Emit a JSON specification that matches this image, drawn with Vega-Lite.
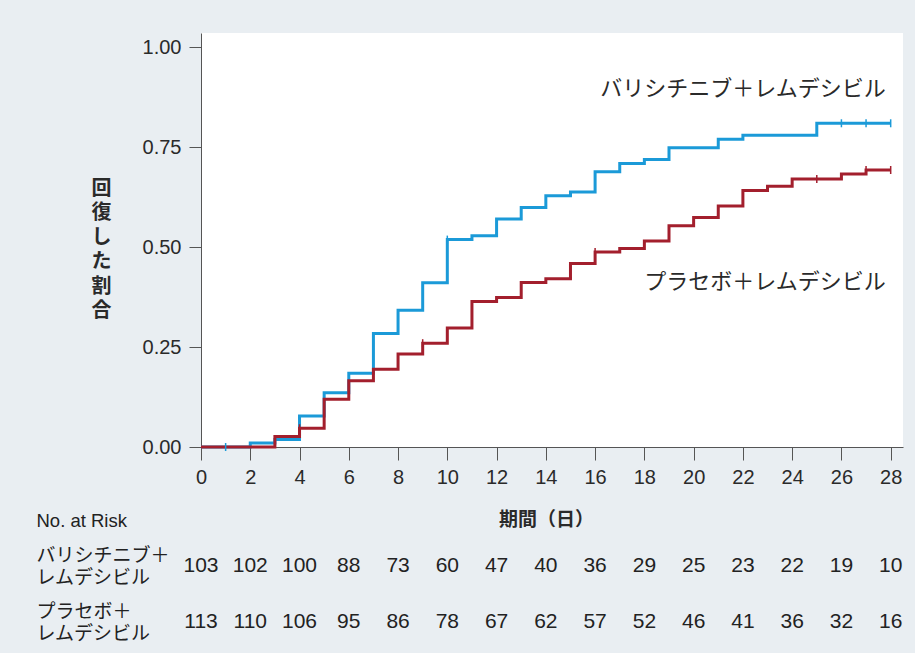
{
  "$schema": "https://vega.github.io/schema/vega-lite/v6.json",
  "background": "#e9eef2",
  "padding": {"left": 36, "top": 33, "right": 12, "bottom": 3},
  "spacing": 23,
  "config": {
    "font": "Liberation Sans, Noto Sans CJK JP",
    "view": {"stroke": null},
    "axis": {"grid": false, "domainColor": "#555555", "tickColor": "#555555", "labelColor": "#2a2a2a", "titleColor": "#2a2a2a", "labelFont": "Liberation Sans, Noto Sans CJK JP", "titleFont": "Liberation Sans, Noto Sans CJK JP"}
  },
  "datasets": {
    "km": [
      {"arm": "バリシチニブ＋レムデシビル", "day": 0, "p": 0},
      {"arm": "バリシチニブ＋レムデシビル", "day": 2, "p": 0.0097},
      {"arm": "バリシチニブ＋レムデシビル", "day": 3, "p": 0.019},
      {"arm": "バリシチニブ＋レムデシビル", "day": 4, "p": 0.0777},
      {"arm": "バリシチニブ＋レムデシビル", "day": 5, "p": 0.1359},
      {"arm": "バリシチニブ＋レムデシビル", "day": 6, "p": 0.1845},
      {"arm": "バリシチニブ＋レムデシビル", "day": 7, "p": 0.2836},
      {"arm": "バリシチニブ＋レムデシビル", "day": 8, "p": 0.3418},
      {"arm": "バリシチニブ＋レムデシビル", "day": 9, "p": 0.4107},
      {"arm": "バリシチニブ＋レムデシビル", "day": 10, "p": 0.5185},
      {"arm": "バリシチニブ＋レムデシビル", "day": 11, "p": 0.5283},
      {"arm": "バリシチニブ＋レムデシビル", "day": 12, "p": 0.5697},
      {"arm": "バリシチニブ＋レムデシビル", "day": 13, "p": 0.5987},
      {"arm": "バリシチニブ＋レムデシビル", "day": 14, "p": 0.628},
      {"arm": "バリシチニブ＋レムデシビル", "day": 15, "p": 0.6377},
      {"arm": "バリシチニブ＋レムデシビル", "day": 16, "p": 0.6883},
      {"arm": "バリシチニブ＋レムデシビル", "day": 17, "p": 0.7085},
      {"arm": "バリシチニブ＋レムデシビル", "day": 18, "p": 0.7186},
      {"arm": "バリシチニブ＋レムデシビル", "day": 19, "p": 0.7483},
      {"arm": "バリシチニブ＋レムデシビル", "day": 21, "p": 0.7694},
      {"arm": "バリシチニブ＋レムデシビル", "day": 22, "p": 0.7795},
      {"arm": "バリシチニブ＋レムデシビル", "day": 25, "p": 0.8093},
      {"arm": "バリシチニブ＋レムデシビル", "day": 28, "p": 0.8093},
      {"arm": "プラセボ＋レムデシビル", "day": 0, "p": 0},
      {"arm": "プラセボ＋レムデシビル", "day": 3, "p": 0.0265},
      {"arm": "プラセボ＋レムデシビル", "day": 4, "p": 0.0469},
      {"arm": "プラセボ＋レムデシビル", "day": 5, "p": 0.1195},
      {"arm": "プラセボ＋レムデシビル", "day": 6, "p": 0.1655},
      {"arm": "プラセボ＋レムデシビル", "day": 7, "p": 0.1944},
      {"arm": "プラセボ＋レムデシビル", "day": 8, "p": 0.2325},
      {"arm": "プラセボ＋レムデシビル", "day": 9, "p": 0.2595},
      {"arm": "プラセボ＋レムデシビル", "day": 10, "p": 0.2975},
      {"arm": "プラセボ＋レムデシビル", "day": 11, "p": 0.3635},
      {"arm": "プラセボ＋レムデシビル", "day": 12, "p": 0.3735},
      {"arm": "プラセボ＋レムデシビル", "day": 13, "p": 0.4115},
      {"arm": "プラセボ＋レムデシビル", "day": 14, "p": 0.4205},
      {"arm": "プラセボ＋レムデシビル", "day": 15, "p": 0.4585},
      {"arm": "プラセボ＋レムデシビル", "day": 16, "p": 0.4875},
      {"arm": "プラセボ＋レムデシビル", "day": 17, "p": 0.4965},
      {"arm": "プラセボ＋レムデシビル", "day": 18, "p": 0.515},
      {"arm": "プラセボ＋レムデシビル", "day": 19, "p": 0.553},
      {"arm": "プラセボ＋レムデシビル", "day": 20, "p": 0.5735},
      {"arm": "プラセボ＋レムデシビル", "day": 21, "p": 0.6025},
      {"arm": "プラセボ＋レムデシビル", "day": 22, "p": 0.641},
      {"arm": "プラセボ＋レムデシビル", "day": 23, "p": 0.652},
      {"arm": "プラセボ＋レムデシビル", "day": 24, "p": 0.67},
      {"arm": "プラセボ＋レムデシビル", "day": 26, "p": 0.6825},
      {"arm": "プラセボ＋レムデシビル", "day": 27, "p": 0.6925},
      {"arm": "プラセボ＋レムデシビル", "day": 28, "p": 0.6925}
    ],
    "censor": [
      {"arm": "バリシチニブ＋レムデシビル", "day": 1, "p": 0},
      {"arm": "バリシチニブ＋レムデシビル", "day": 10, "p": 0.5185},
      {"arm": "バリシチニブ＋レムデシビル", "day": 26, "p": 0.8093},
      {"arm": "バリシチニブ＋レムデシビル", "day": 27, "p": 0.8093},
      {"arm": "バリシチニブ＋レムデシビル", "day": 28, "p": 0.8093},
      {"arm": "プラセボ＋レムデシビル", "day": 4, "p": 0.0469},
      {"arm": "プラセボ＋レムデシビル", "day": 9, "p": 0.2595},
      {"arm": "プラセボ＋レムデシビル", "day": 16, "p": 0.4875},
      {"arm": "プラセボ＋レムデシビル", "day": 25, "p": 0.67},
      {"arm": "プラセボ＋レムデシビル", "day": 27, "p": 0.6925},
      {"arm": "プラセボ＋レムデシビル", "day": 28, "p": 0.6925}
    ],
    "labels": [
      {"label": "バリシチニブ＋レムデシビル", "day": 27.8, "p": 0.895},
      {"label": "プラセボ＋レムデシビル", "day": 27.8, "p": 0.4125}
    ],
    "risk": [
      {"arm": "バリシチニブ＋レムデシビル", "day": 0, "n": 103},
      {"arm": "バリシチニブ＋レムデシビル", "day": 2, "n": 102},
      {"arm": "バリシチニブ＋レムデシビル", "day": 4, "n": 100},
      {"arm": "バリシチニブ＋レムデシビル", "day": 6, "n": 88},
      {"arm": "バリシチニブ＋レムデシビル", "day": 8, "n": 73},
      {"arm": "バリシチニブ＋レムデシビル", "day": 10, "n": 60},
      {"arm": "バリシチニブ＋レムデシビル", "day": 12, "n": 47},
      {"arm": "バリシチニブ＋レムデシビル", "day": 14, "n": 40},
      {"arm": "バリシチニブ＋レムデシビル", "day": 16, "n": 36},
      {"arm": "バリシチニブ＋レムデシビル", "day": 18, "n": 29},
      {"arm": "バリシチニブ＋レムデシビル", "day": 20, "n": 25},
      {"arm": "バリシチニブ＋レムデシビル", "day": 22, "n": 23},
      {"arm": "バリシチニブ＋レムデシビル", "day": 24, "n": 22},
      {"arm": "バリシチニブ＋レムデシビル", "day": 26, "n": 19},
      {"arm": "バリシチニブ＋レムデシビル", "day": 28, "n": 10},
      {"arm": "プラセボ＋レムデシビル", "day": 0, "n": 113},
      {"arm": "プラセボ＋レムデシビル", "day": 2, "n": 110},
      {"arm": "プラセボ＋レムデシビル", "day": 4, "n": 106},
      {"arm": "プラセボ＋レムデシビル", "day": 6, "n": 95},
      {"arm": "プラセボ＋レムデシビル", "day": 8, "n": 86},
      {"arm": "プラセボ＋レムデシビル", "day": 10, "n": 78},
      {"arm": "プラセボ＋レムデシビル", "day": 12, "n": 67},
      {"arm": "プラセボ＋レムデシビル", "day": 14, "n": 62},
      {"arm": "プラセボ＋レムデシビル", "day": 16, "n": 57},
      {"arm": "プラセボ＋レムデシビル", "day": 18, "n": 52},
      {"arm": "プラセボ＋レムデシビル", "day": 20, "n": 46},
      {"arm": "プラセボ＋レムデシビル", "day": 22, "n": 41},
      {"arm": "プラセボ＋レムデシビル", "day": 24, "n": 36},
      {"arm": "プラセボ＋レムデシビル", "day": 26, "n": 32},
      {"arm": "プラセボ＋レムデシビル", "day": 28, "n": 16}
    ]
  },
  "vconcat": [
    {
      "width": 702,
      "height": 414,
      "view": {"fill": "white", "stroke": null},
      "layer": [
        {
          "data": {"name": "km"},
          "transform": [{"filter": "datum.arm === 'バリシチニブ＋レムデシビル'"}],
          "mark": {"type": "line", "interpolate": "step-after", "strokeWidth": 3, "color": "#1b9ad8"},
          "encoding": {
            "x": {"field": "day", "type": "quantitative", "scale": {"domain": [0, 28.5], "nice": false, "zero": false},
              "axis": {"values": [0, 2, 4, 6, 8, 10, 12, 14, 16, 18, 20, 22, 24, 26, 28], "title": null, "labelFontSize": 20, "tickSize": 13, "labelPadding": 7, "labelFlush": false}},
            "y": {"field": "p", "type": "quantitative", "scale": {"domain": [0, 1.035], "nice": false},
              "axis": {"values": [0, 0.25, 0.5, 0.75, 1], "format": ".2f", "labelFontSize": 20, "tickSize": 12, "labelPadding": 8,
                "title": ["回", "復", "し", "た", "割", "合"], "titleAngle": 0, "titleFontWeight": "bold", "titleFontSize": 20, "titleLineHeight": 24.5,
                "titleX": -100, "titleY": 155, "titleAlign": "center", "titleBaseline": "middle", "titleFont": "Noto Sans CJK JP"}}
          }
        },
        {
          "data": {"name": "km"},
          "transform": [{"filter": "datum.arm === 'プラセボ＋レムデシビル'"}],
          "mark": {"type": "line", "interpolate": "step-after", "strokeWidth": 3, "color": "#a31f2d"},
          "encoding": {
            "x": {"field": "day", "type": "quantitative"},
            "y": {"field": "p", "type": "quantitative"}
          }
        },
        {
          "data": {"name": "censor"},
          "mark": {"type": "point", "shape": "M0,-1L0,1", "size": 64, "strokeWidth": 1.5, "filled": false, "opacity": 1},
          "encoding": {
            "x": {"field": "day", "type": "quantitative"},
            "y": {"field": "p", "type": "quantitative"},
            "color": {"field": "arm", "type": "nominal", "scale": {"domain": ["バリシチニブ＋レムデシビル", "プラセボ＋レムデシビル"], "range": ["#1b9ad8", "#a31f2d"]}, "legend": null}
          }
        },
        {
          "data": {"name": "labels"},
          "mark": {"type": "text", "align": "right", "baseline": "middle", "fontSize": 22, "color": "#2a2a2a", "font": "Noto Sans CJK JP"},
          "encoding": {
            "x": {"field": "day", "type": "quantitative"},
            "y": {"field": "p", "type": "quantitative"},
            "text": {"field": "label"}
          }
        }
      ]
    },
    {
      "width": 702,
      "height": 112,
      "data": {"name": "risk"},
      "mark": {"type": "text", "fontSize": 21, "color": "#222222", "font": "Liberation Sans"},
      "encoding": {
        "x": {"field": "day", "type": "quantitative", "scale": {"domain": [0, 28.5], "nice": false, "zero": false},
          "axis": {"orient": "top", "labels": false, "ticks": false, "domain": false, "title": "期間（日）", "titleFontWeight": "bold", "titleFontSize": 19, "titleFont": "Noto Sans CJK JP",
            "titleX": 345, "titleY": -19, "titleAlign": "center", "titleBaseline": "middle"}},
        "y": {"field": "arm", "type": "nominal", "sort": ["バリシチニブ＋レムデシビル", "プラセボ＋レムデシビル"],
          "axis": {"labelExpr": "split(replace(datum.label, '＋', '＋|'), '|')", "ticks": false, "tickSize": 0, "domain": false,
            "labelAlign": "left", "labelPadding": 165, "labelFontSize": 19, "labelLineHeight": 22, "labelBaseline": "middle", "labelOffset": -11, "labelFont": "Noto Sans CJK JP", "labelColor": "#222222",
            "title": "No. at Risk", "titleAngle": 0, "titleAlign": "left", "titleX": -165, "titleY": -17.5, "titleBaseline": "middle", "titleFontSize": 18.5, "titleFontWeight": "normal", "titleColor": "#222222"}},
        "text": {"field": "n", "type": "nominal"}
      }
    }
  ]
}
